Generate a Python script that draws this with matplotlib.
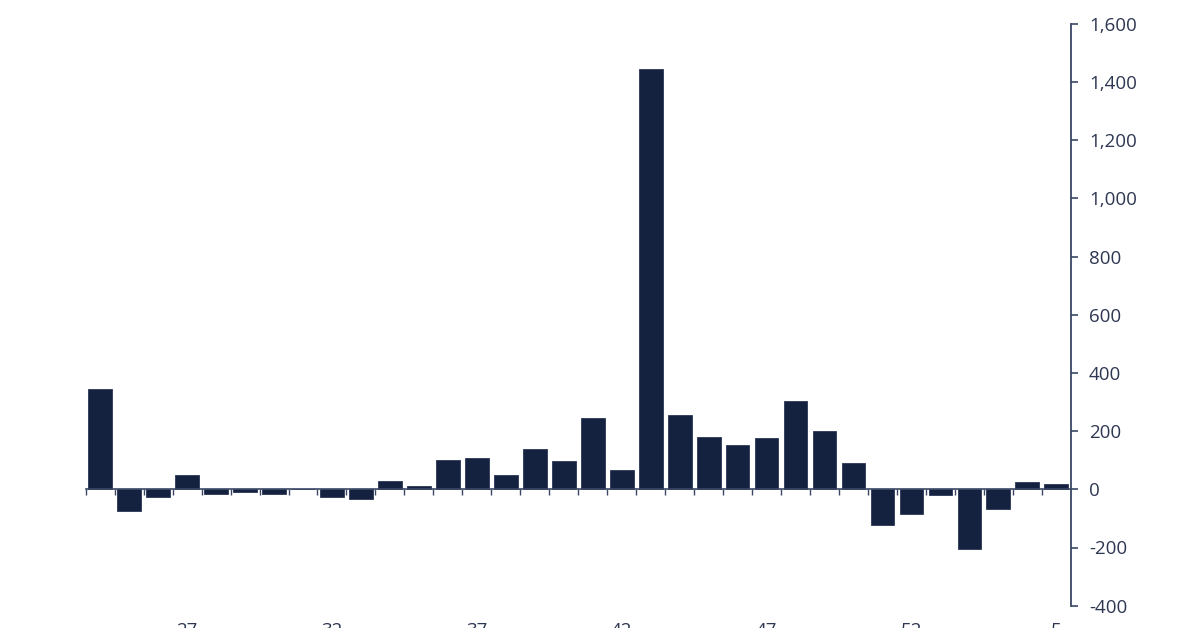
import matplotlib
matplotlib.use("Agg")
import matplotlib.pyplot as plt
from matplotlib.ticker import FuncFormatter, FixedLocator

# ---- data ----
weeks = [24, 25, 26, 27, 28, 29, 30, 31, 32, 33, 34, 35, 36, 37, 38, 39, 40,
         41, 42, 43, 44, 45, 46, 47, 48, 49, 50, 51, 52, 1, 2, 3, 4, 5]
values = [345, -75, -27, 48, -15, -9, -15, 0, -27, -33, 30, 13, 102, 108, 48,
          138, 97, 246, 67, 1444, 254, 181, 151, 175, 305, 199, 90, -122, -86,
          -21, -206, -67, 25, 19]
y_ticks = [-400, -200, 0, 200, 400, 600, 800, 1000, 1200, 1400, 1600]
label_every = 5
label_start = 3

BAR = "#14213f"
AXIS = "#3a4765"
TEXT = "#2e3752"

plt.rcParams["font.family"] = ["Open Sans", "DejaVu Sans"]

fig = plt.figure(figsize=(12, 6.28), dpi=100)
ax = fig.add_axes([85.7 / 1200, 22.3 / 628, (1070.8 - 85.7) / 1200, (605.7 - 23.7) / 628])

pos = list(range(len(weeks)))
ax.bar(pos, values, width=0.82, color=BAR, edgecolor="#2a3656", linewidth=0.6, zorder=2)

ax.set_xlim(-0.5, len(weeks) - 0.5)
ax.set_ylim(y_ticks[0], y_ticks[-1])

# spines
for s in ["top", "left"]:
    ax.spines[s].set_visible(False)
ax.spines["right"].set_color(AXIS)
ax.spines["right"].set_linewidth(1.3)
ax.spines["bottom"].set_position(("data", 0))
ax.spines["bottom"].set_color(AXIS)
ax.spines["bottom"].set_linewidth(1.2)
ax.spines["bottom"].set_zorder(3)

# y axis on right
ax.yaxis.tick_right()
ax.set_yticks(y_ticks)
ax.yaxis.set_major_formatter(FuncFormatter(lambda v, p: f"{int(v):,}"))
ax.tick_params(axis="y", direction="out", length=5, width=1.2, color=AXIS,
               labelsize=13.5, labelcolor=TEXT, pad=8)

# x ticks at bar boundaries on zero line
ax.xaxis.set_major_locator(FixedLocator([p - 0.5 for p in pos]))
ax.tick_params(axis="x", direction="out", length=4.2, width=1.0, color=AXIS,
               labelbottom=False)

# category labels at bottom
sec = ax.secondary_xaxis(location=0.0)
lab_pos = pos[label_start::label_every]
sec.set_xticks(lab_pos)
sec.set_xticklabels([str(weeks[i]) for i in lab_pos])
sec.spines["bottom"].set_visible(False)
sec.tick_params(axis="x", length=0, pad=11.5, labelsize=13.5, labelcolor=TEXT)

fig.savefig("out.png", dpi=100)
